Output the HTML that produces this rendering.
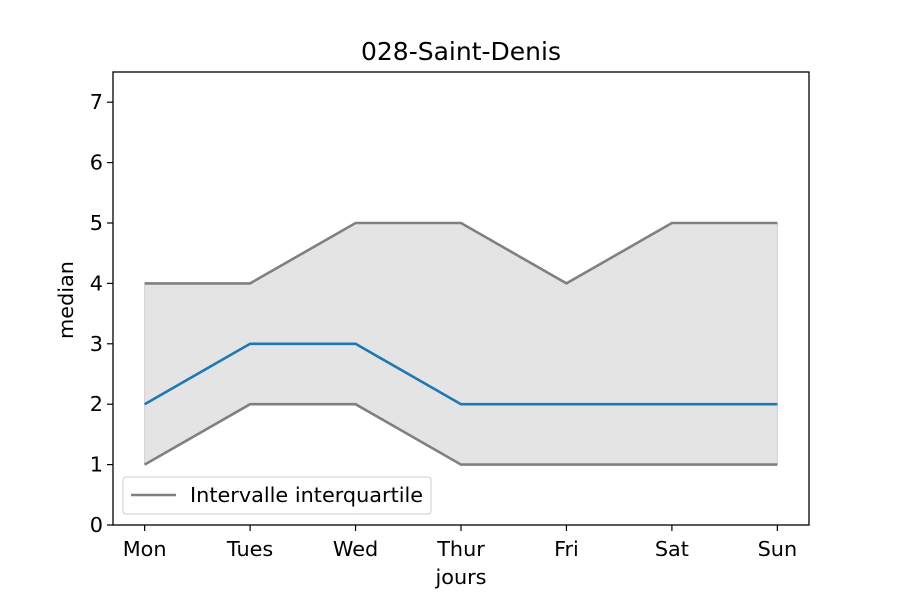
<!DOCTYPE html>
<html><head><meta charset="utf-8"><style>
body{margin:0;background:#fff;}
svg text{font-family:"DejaVu Sans","Liberation Sans",sans-serif;fill:#000;}
</style></head><body>
<svg id="chart" width="900" height="600" xmlns="http://www.w3.org/2000/svg">
<rect width="900" height="600" fill="#fff"/>
<text x="461" y="60" font-size="25" text-anchor="middle">028-Saint-Denis</text>
<g id="plot"></g>
<text x="461" y="584" font-size="20.8" text-anchor="middle">jours</text>
<text transform="translate(73,300) rotate(-90)" font-size="20.8" text-anchor="middle">median</text>
</svg>
<script>
const categories=["Mon","Tues","Wed","Thur","Fri","Sat","Sun"];
const medianValues=[2,3,3,2,2,2,2];
const q1Values=[1,2,2,1,1,1,1];
const q3Values=[4,4,5,5,4,5,5];
const yTicks=[0,1,2,3,4,5,6,7];
const L=113,R=809,T=72,B=525;
function xs(i){return L+(i+0.3)/6.6*(R-L);}
function ys(v){return B-v/7.5*(B-T);}
const NS="http://www.w3.org/2000/svg";
const g=document.getElementById('plot');
function mk(t,a){const e=document.createElementNS(NS,t);for(const k in a)e.setAttribute(k,a[k]);g.appendChild(e);return e;}
let area=categories.map((c,i)=>xs(i)+','+ys(q3Values[i])).concat(categories.map((c,i)=>xs(i)+','+ys(q1Values[i])).reverse());
const ar=mk('polygon',{points:area.join(' '),fill:'#e4e4e4',stroke:'#d0d0d0'});


function line(vals,color,name){const p=mk('polyline',{points:vals.map((v,i)=>xs(i)+','+ys(v)).join(' '),fill:'none',stroke:color,'stroke-width':2.6});

}
line(q3Values,'#808080','q3-line');
line(q1Values,'#808080','q1-line');
line(medianValues,'#1f77b4','median-line');
const fr=mk('rect',{x:L,y:T,width:R-L,height:B-T,fill:'none',stroke:'#000','stroke-width':1.3});


yTicks.forEach(v=>{const y=ys(v);mk('line',{x1:L-6,x2:L,y1:y,y2:y,stroke:'#000','stroke-width':1.2});
const t=mk('text',{x:L-10,y:y+7,'font-size':20.8,'text-anchor':'end'});t.textContent=v;

});
categories.forEach((c,i)=>{const x=xs(i);mk('line',{x1:x,x2:x,y1:B,y2:B+6,stroke:'#000','stroke-width':1.2});
const t=mk('text',{x:x,y:B+31,'font-size':20.8,'text-anchor':'middle'});t.textContent=c;

});
const lg=mk('rect',{x:123,y:477,width:308,height:37,rx:3,fill:'#fff','fill-opacity':0.8,stroke:'#ccc'});


mk('line',{x1:131,x2:176,y1:495,y2:495,stroke:'#808080','stroke-width':2.6});
const lt=mk('text',{x:190,y:502,'font-size':20.8});lt.textContent='Intervalle interquartile';


</script>
</body></html>
